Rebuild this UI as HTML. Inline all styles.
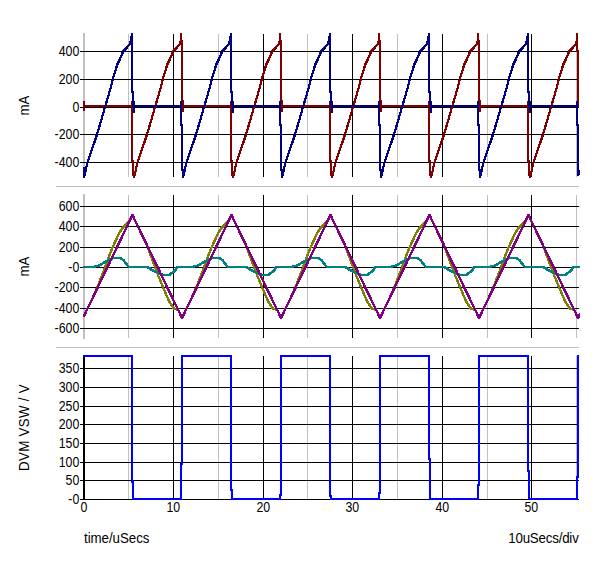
<!DOCTYPE html><html><head><meta charset="utf-8"><title>plot</title><style>
html,body{margin:0;padding:0;background:#fff}body{width:600px;height:563px;overflow:hidden}
svg{display:block;font-family:"Liberation Sans",sans-serif;font-size:13.33px;fill:#000}
.k{fill:#000}.y{fill:#c0c0c0}path,rect{shape-rendering:crispEdges}
</style></head><body>
<svg width="600" height="563" viewBox="0 0 600 563">
<rect width="600" height="563" fill="#fff"/>
<path class="y" d="M56 186h523v1h-523zM56 347h523v1h-523zM128 34h1v143h-1zM218 34h1v143h-1zM307 34h1v143h-1zM397 34h1v143h-1zM487 34h1v143h-1zM576 34h1v143h-1zM83 33h2v145h-2zM128 195h1v143h-1zM218 195h1v143h-1zM307 195h1v143h-1zM397 195h1v143h-1zM487 195h1v143h-1zM576 195h1v143h-1zM83 194h2v145h-2zM128 356h1v143h-1zM218 356h1v143h-1zM307 356h1v143h-1zM397 356h1v143h-1zM487 356h1v143h-1zM576 356h1v143h-1z"/>
<path class="k" d="M173 34h1v143h-1zM263 34h1v143h-1zM352 34h1v143h-1zM442 34h1v143h-1zM531 34h1v143h-1zM80 51h499v1h-499zM80 79h499v1h-499zM80 107h499v1h-499zM80 134h499v1h-499zM80 162h499v1h-499zM173 195h1v143h-1zM263 195h1v143h-1zM352 195h1v143h-1zM442 195h1v143h-1zM531 195h1v143h-1zM80 206h499v1h-499zM80 226h499v1h-499zM80 247h499v1h-499zM80 267h499v1h-499zM80 287h499v1h-499zM80 308h499v1h-499zM80 328h499v1h-499zM173 356h1v143h-1zM263 356h1v143h-1zM352 356h1v143h-1zM442 356h1v143h-1zM531 356h1v143h-1zM83 355h2v145h-2zM80 368h499v1h-499zM80 387h499v1h-499zM80 406h499v1h-499zM80 424h499v1h-499zM80 443h499v1h-499zM80 462h499v1h-499zM80 480h499v1h-499zM80 499h499v1h-499z"/>
<path fill="#800000" d="M477 33h2v7h-2zM180 33h2v7h-2zM279 33h2v7h-2zM378 33h2v7h-2zM576 33h2v8h-2zM180 40h3v1h-3zM477 40h3v1h-3zM279 40h3v1h-3zM378 40h3v1h-3zM377 41h4v3h-4zM179 41h4v3h-4zM575 41h3v3h-3zM278 41h4v3h-4zM476 41h4v3h-4zM574 44h4v1h-4zM178 44h5v1h-5zM376 44h5v1h-5zM277 44h5v1h-5zM475 44h5v1h-5zM474 45h3v1h-3zM177 45h3v1h-3zM276 45h3v1h-3zM573 45h5v1h-5zM375 45h3v1h-3zM374 46h3v1h-3zM473 46h3v1h-3zM572 46h3v1h-3zM176 46h3v1h-3zM275 46h3v1h-3zM274 47h3v1h-3zM571 47h3v1h-3zM472 47h3v1h-3zM373 47h3v1h-3zM175 47h3v1h-3zM174 48h4v1h-4zM372 48h4v1h-4zM273 48h4v1h-4zM471 48h4v1h-4zM570 48h4v1h-4zM576 46h2v4h-2zM470 49h4v1h-4zM272 49h4v1h-4zM569 49h4v1h-4zM173 49h4v1h-4zM371 49h4v1h-4zM370 50h4v1h-4zM568 50h4v1h-4zM469 50h4v1h-4zM172 50h4v1h-4zM271 50h4v1h-4zM576 50h3v2h-3zM172 51h3v1h-3zM271 51h3v1h-3zM370 51h3v1h-3zM568 51h3v1h-3zM469 51h3v1h-3zM567 52h3v2h-3zM171 52h3v2h-3zM270 52h3v2h-3zM468 52h3v2h-3zM369 52h3v2h-3zM171 54h2v1h-2zM567 54h2v1h-2zM270 54h2v1h-2zM468 54h2v1h-2zM369 54h2v1h-2zM467 55h3v1h-3zM566 55h3v1h-3zM170 55h3v1h-3zM269 55h3v1h-3zM368 55h3v1h-3zM269 56h2v1h-2zM368 56h2v1h-2zM467 56h2v1h-2zM566 56h2v1h-2zM170 56h2v1h-2zM169 57h3v1h-3zM367 57h3v1h-3zM268 57h3v1h-3zM466 57h3v1h-3zM565 57h3v1h-3zM169 58h2v1h-2zM367 58h2v1h-2zM268 58h2v1h-2zM466 58h2v1h-2zM565 58h2v1h-2zM465 59h3v2h-3zM267 59h3v2h-3zM168 59h3v2h-3zM366 59h3v2h-3zM564 59h3v2h-3zM464 61h3v2h-3zM167 61h3v2h-3zM266 61h3v2h-3zM365 61h3v2h-3zM563 61h3v2h-3zM265 63h3v2h-3zM364 63h3v2h-3zM463 63h3v2h-3zM562 63h3v2h-3zM166 63h3v2h-3zM562 65h2v1h-2zM166 65h2v1h-2zM265 65h2v1h-2zM364 65h2v1h-2zM463 65h2v1h-2zM165 66h3v2h-3zM363 66h3v2h-3zM264 66h3v2h-3zM462 66h3v2h-3zM561 66h3v2h-3zM264 68h2v2h-2zM462 68h2v2h-2zM561 68h2v2h-2zM165 68h2v2h-2zM363 68h2v2h-2zM461 70h3v1h-3zM560 70h3v1h-3zM263 70h3v1h-3zM164 70h3v1h-3zM362 70h3v1h-3zM461 71h2v2h-2zM560 71h2v2h-2zM263 71h2v2h-2zM164 71h2v2h-2zM362 71h2v2h-2zM460 73h3v1h-3zM361 73h3v1h-3zM559 73h3v1h-3zM163 73h3v1h-3zM262 73h3v1h-3zM262 74h2v2h-2zM361 74h2v2h-2zM460 74h2v2h-2zM559 74h2v2h-2zM163 74h2v2h-2zM162 76h3v1h-3zM261 76h3v1h-3zM360 76h3v1h-3zM459 76h3v1h-3zM558 76h3v1h-3zM459 77h2v3h-2zM162 77h2v3h-2zM261 77h2v3h-2zM360 77h2v3h-2zM558 77h2v3h-2zM458 80h3v1h-3zM161 80h3v1h-3zM557 80h3v1h-3zM359 80h3v1h-3zM260 80h3v1h-3zM260 81h2v3h-2zM458 81h2v3h-2zM557 81h2v3h-2zM161 81h2v3h-2zM359 81h2v3h-2zM556 84h3v1h-3zM457 84h3v1h-3zM160 84h3v1h-3zM259 84h3v1h-3zM358 84h3v1h-3zM259 85h2v3h-2zM358 85h2v3h-2zM556 85h2v3h-2zM457 85h2v3h-2zM160 85h2v3h-2zM258 88h3v1h-3zM456 88h3v1h-3zM357 88h3v1h-3zM159 88h3v1h-3zM555 88h3v1h-3zM555 89h2v2h-2zM159 89h2v2h-2zM258 89h2v2h-2zM456 89h2v2h-2zM357 89h2v2h-2zM158 91h3v1h-3zM455 91h3v1h-3zM257 91h3v1h-3zM356 91h3v1h-3zM554 91h3v1h-3zM257 92h2v3h-2zM455 92h2v3h-2zM554 92h2v3h-2zM356 92h2v3h-2zM158 92h2v3h-2zM256 95h3v1h-3zM454 95h3v1h-3zM553 95h3v1h-3zM157 95h3v1h-3zM355 95h3v1h-3zM553 96h2v2h-2zM355 96h2v2h-2zM256 96h2v2h-2zM454 96h2v2h-2zM157 96h2v2h-2zM354 98h3v1h-3zM453 98h3v1h-3zM255 98h3v1h-3zM156 98h3v1h-3zM552 98h3v1h-3zM478 45h2v55h-2zM379 45h2v55h-2zM280 45h2v55h-2zM181 45h2v55h-2zM255 99h2v2h-2zM552 99h2v2h-2zM156 99h2v2h-2zM354 99h2v2h-2zM453 99h2v2h-2zM280 100h3v2h-3zM181 100h3v2h-3zM379 100h3v2h-3zM478 100h3v2h-3zM155 101h3v2h-3zM254 101h3v2h-3zM551 101h3v2h-3zM353 101h3v2h-3zM452 101h3v2h-3zM131 101h2v4h-2zM527 101h2v4h-2zM329 101h2v4h-2zM428 101h2v4h-2zM83 101h2v4h-2zM230 101h2v4h-2zM182 102h2v3h-2zM281 102h2v3h-2zM380 102h2v3h-2zM479 102h2v3h-2zM551 103h2v2h-2zM353 103h2v2h-2zM452 103h2v2h-2zM155 103h2v2h-2zM254 103h2v2h-2zM451 105h3v1h-3zM154 105h3v1h-3zM550 105h3v1h-3zM253 105h3v1h-3zM352 105h3v1h-3zM577 52h2v55h-2zM83 105h50v2h-50zM182 105h50v2h-50zM281 105h50v2h-50zM380 105h50v2h-50zM479 105h50v2h-50zM253 106h2v2h-2zM352 106h2v2h-2zM451 106h2v2h-2zM550 106h2v2h-2zM154 106h2v2h-2zM351 108h3v1h-3zM252 108h3v1h-3zM450 108h3v1h-3zM549 108h3v1h-3zM153 108h3v1h-3zM83 107h2v4h-2zM182 107h2v5h-2zM281 107h2v5h-2zM380 107h2v5h-2zM479 107h2v5h-2zM351 109h2v3h-2zM252 109h2v3h-2zM450 109h2v3h-2zM549 109h2v3h-2zM153 109h2v3h-2zM251 112h3v1h-3zM548 112h3v1h-3zM152 112h3v1h-3zM350 112h3v1h-3zM449 112h3v1h-3zM152 113h2v2h-2zM251 113h2v2h-2zM350 113h2v2h-2zM548 113h2v2h-2zM449 113h2v2h-2zM547 115h3v1h-3zM448 115h3v1h-3zM151 115h3v1h-3zM250 115h3v1h-3zM349 115h3v1h-3zM349 116h2v3h-2zM448 116h2v3h-2zM547 116h2v3h-2zM250 116h2v3h-2zM151 116h2v3h-2zM249 119h3v1h-3zM447 119h3v1h-3zM348 119h3v1h-3zM546 119h3v1h-3zM150 119h3v1h-3zM150 120h2v2h-2zM546 120h2v2h-2zM249 120h2v2h-2zM447 120h2v2h-2zM348 120h2v2h-2zM248 122h3v1h-3zM545 122h3v1h-3zM347 122h3v1h-3zM446 122h3v1h-3zM149 122h3v1h-3zM545 123h2v2h-2zM149 123h2v2h-2zM248 123h2v2h-2zM347 123h2v2h-2zM446 123h2v2h-2zM544 125h3v2h-3zM247 125h3v2h-3zM148 125h3v2h-3zM346 125h3v2h-3zM445 125h3v2h-3zM346 127h2v2h-2zM445 127h2v2h-2zM544 127h2v2h-2zM247 127h2v2h-2zM148 127h2v2h-2zM543 129h3v1h-3zM444 129h3v1h-3zM246 129h3v1h-3zM147 129h3v1h-3zM345 129h3v1h-3zM246 130h2v2h-2zM345 130h2v2h-2zM147 130h2v2h-2zM543 130h2v2h-2zM444 130h2v2h-2zM245 132h3v1h-3zM443 132h3v1h-3zM344 132h3v1h-3zM542 132h3v1h-3zM146 132h3v1h-3zM146 133h2v2h-2zM542 133h2v2h-2zM344 133h2v2h-2zM245 133h2v2h-2zM443 133h2v2h-2zM541 135h3v2h-3zM145 135h3v2h-3zM343 135h3v2h-3zM244 135h3v2h-3zM442 135h3v2h-3zM541 137h2v1h-2zM343 137h2v1h-2zM145 137h2v1h-2zM244 137h2v1h-2zM442 137h2v1h-2zM342 138h3v2h-3zM441 138h3v2h-3zM540 138h3v2h-3zM144 138h3v2h-3zM243 138h3v2h-3zM243 140h2v1h-2zM342 140h2v1h-2zM441 140h2v1h-2zM540 140h2v1h-2zM144 140h2v1h-2zM242 141h3v2h-3zM143 141h3v2h-3zM341 141h3v2h-3zM539 141h3v2h-3zM440 141h3v2h-3zM242 143h2v1h-2zM143 143h2v1h-2zM341 143h2v1h-2zM539 143h2v1h-2zM440 143h2v1h-2zM142 144h3v1h-3zM538 144h3v1h-3zM241 144h3v1h-3zM340 144h3v1h-3zM439 144h3v1h-3zM439 145h2v2h-2zM538 145h2v2h-2zM142 145h2v2h-2zM241 145h2v2h-2zM340 145h2v2h-2zM240 147h3v1h-3zM339 147h3v1h-3zM537 147h3v1h-3zM141 147h3v1h-3zM438 147h3v1h-3zM141 148h2v2h-2zM240 148h2v2h-2zM438 148h2v2h-2zM339 148h2v2h-2zM537 148h2v2h-2zM338 150h3v1h-3zM239 150h3v1h-3zM536 150h3v1h-3zM437 150h3v1h-3zM140 150h3v1h-3zM536 151h2v2h-2zM140 151h2v2h-2zM239 151h2v2h-2zM338 151h2v2h-2zM437 151h2v2h-2zM139 153h3v1h-3zM238 153h3v1h-3zM337 153h3v1h-3zM535 153h3v1h-3zM436 153h3v1h-3zM337 154h2v2h-2zM535 154h2v2h-2zM436 154h2v2h-2zM139 154h2v2h-2zM238 154h2v2h-2zM435 156h3v1h-3zM534 156h3v1h-3zM138 156h3v1h-3zM237 156h3v1h-3zM336 156h3v1h-3zM336 157h2v2h-2zM435 157h2v2h-2zM534 157h2v2h-2zM138 157h2v2h-2zM237 157h2v2h-2zM131 107h2v53h-2zM527 107h2v53h-2zM329 107h2v53h-2zM428 107h2v53h-2zM230 107h2v53h-2zM434 159h3v1h-3zM335 159h3v1h-3zM533 159h3v1h-3zM137 159h3v1h-3zM236 159h3v1h-3zM137 160h2v2h-2zM329 160h3v2h-3zM527 160h3v2h-3zM236 160h2v2h-2zM335 160h2v2h-2zM428 160h3v2h-3zM230 160h3v2h-3zM434 160h2v2h-2zM533 160h2v2h-2zM131 160h3v2h-3zM136 162h3v1h-3zM334 162h3v1h-3zM235 162h3v1h-3zM433 162h3v1h-3zM532 162h3v1h-3zM532 163h2v3h-2zM136 163h2v3h-2zM334 163h2v3h-2zM235 163h2v3h-2zM433 163h2v3h-2zM531 166h3v1h-3zM234 166h3v1h-3zM432 166h3v1h-3zM135 166h3v1h-3zM333 166h3v1h-3zM330 162h2v9h-2zM231 162h2v9h-2zM429 162h2v9h-2zM528 162h2v9h-2zM132 162h2v9h-2zM333 167h2v4h-2zM531 167h2v4h-2zM432 167h2v4h-2zM234 167h2v4h-2zM135 167h2v4h-2zM231 171h5v1h-5zM330 171h5v1h-5zM429 171h5v1h-5zM528 171h5v1h-5zM132 171h5v1h-5zM330 172h4v4h-4zM231 172h4v4h-4zM429 172h4v4h-4zM132 172h4v4h-4zM528 172h4v4h-4zM529 176h2v2h-2zM133 176h2v2h-2zM232 176h2v2h-2zM430 176h2v2h-2zM331 176h2v2h-2z"/>
<path fill="#000080" d="M131 33h2v3h-2zM527 33h2v3h-2zM329 33h2v3h-2zM428 33h2v3h-2zM230 33h2v3h-2zM229 36h3v5h-3zM328 36h3v5h-3zM526 36h3v5h-3zM427 36h3v5h-3zM130 36h3v5h-3zM129 41h4v3h-4zM228 41h4v3h-4zM426 41h4v3h-4zM327 41h4v3h-4zM525 41h4v3h-4zM128 44h5v1h-5zM227 44h5v1h-5zM425 44h5v1h-5zM524 44h5v1h-5zM326 44h5v1h-5zM226 45h3v1h-3zM325 45h3v1h-3zM424 45h3v1h-3zM523 45h3v1h-3zM127 45h3v1h-3zM522 46h3v1h-3zM225 46h3v1h-3zM126 46h3v1h-3zM324 46h3v1h-3zM423 46h3v1h-3zM323 47h3v1h-3zM521 47h3v1h-3zM125 47h3v1h-3zM224 47h3v1h-3zM422 47h3v1h-3zM520 48h4v1h-4zM322 48h4v1h-4zM124 48h4v1h-4zM223 48h4v1h-4zM421 48h4v1h-4zM222 49h4v1h-4zM321 49h4v1h-4zM420 49h4v1h-4zM519 49h4v1h-4zM123 49h4v1h-4zM221 50h4v1h-4zM122 50h4v1h-4zM320 50h4v1h-4zM518 50h4v1h-4zM419 50h4v1h-4zM320 51h3v1h-3zM419 51h3v1h-3zM221 51h3v1h-3zM518 51h3v1h-3zM122 51h3v1h-3zM319 52h3v2h-3zM418 52h3v2h-3zM121 52h3v2h-3zM517 52h3v2h-3zM220 52h3v2h-3zM121 54h2v1h-2zM220 54h2v1h-2zM319 54h2v1h-2zM418 54h2v1h-2zM517 54h2v1h-2zM120 55h3v1h-3zM219 55h3v1h-3zM318 55h3v1h-3zM417 55h3v1h-3zM516 55h3v1h-3zM120 56h2v1h-2zM516 56h2v1h-2zM318 56h2v1h-2zM417 56h2v1h-2zM219 56h2v1h-2zM515 57h3v1h-3zM119 57h3v1h-3zM317 57h3v1h-3zM218 57h3v1h-3zM416 57h3v1h-3zM119 58h2v1h-2zM218 58h2v1h-2zM416 58h2v1h-2zM515 58h2v1h-2zM317 58h2v1h-2zM316 59h3v2h-3zM514 59h3v2h-3zM415 59h3v2h-3zM217 59h3v2h-3zM118 59h3v2h-3zM117 61h3v2h-3zM216 61h3v2h-3zM414 61h3v2h-3zM315 61h3v2h-3zM513 61h3v2h-3zM413 63h3v2h-3zM512 63h3v2h-3zM116 63h3v2h-3zM215 63h3v2h-3zM314 63h3v2h-3zM314 65h2v1h-2zM413 65h2v1h-2zM512 65h2v1h-2zM116 65h2v1h-2zM215 65h2v1h-2zM313 66h3v2h-3zM412 66h3v2h-3zM214 66h3v2h-3zM511 66h3v2h-3zM115 66h3v2h-3zM313 68h2v2h-2zM214 68h2v2h-2zM412 68h2v2h-2zM115 68h2v2h-2zM511 68h2v2h-2zM114 70h3v1h-3zM312 70h3v1h-3zM510 70h3v1h-3zM411 70h3v1h-3zM213 70h3v1h-3zM411 71h2v2h-2zM213 71h2v2h-2zM114 71h2v2h-2zM312 71h2v2h-2zM510 71h2v2h-2zM113 73h3v1h-3zM410 73h3v1h-3zM212 73h3v1h-3zM311 73h3v1h-3zM509 73h3v1h-3zM311 74h2v2h-2zM113 74h2v2h-2zM509 74h2v2h-2zM410 74h2v2h-2zM212 74h2v2h-2zM310 76h3v1h-3zM508 76h3v1h-3zM112 76h3v1h-3zM211 76h3v1h-3zM409 76h3v1h-3zM112 77h2v3h-2zM211 77h2v3h-2zM409 77h2v3h-2zM310 77h2v3h-2zM508 77h2v3h-2zM210 80h3v1h-3zM309 80h3v1h-3zM408 80h3v1h-3zM111 80h3v1h-3zM507 80h3v1h-3zM507 81h2v3h-2zM111 81h2v3h-2zM408 81h2v3h-2zM210 81h2v3h-2zM309 81h2v3h-2zM209 84h3v1h-3zM110 84h3v1h-3zM308 84h3v1h-3zM407 84h3v1h-3zM506 84h3v1h-3zM407 85h2v3h-2zM506 85h2v3h-2zM209 85h2v3h-2zM110 85h2v3h-2zM308 85h2v3h-2zM505 88h3v1h-3zM109 88h3v1h-3zM208 88h3v1h-3zM406 88h3v1h-3zM307 88h3v1h-3zM131 45h2v46h-2zM329 45h2v46h-2zM527 45h2v46h-2zM428 45h2v46h-2zM230 45h2v46h-2zM307 89h2v2h-2zM505 89h2v2h-2zM109 89h2v2h-2zM406 89h2v2h-2zM208 89h2v2h-2zM207 91h3v1h-3zM306 91h3v1h-3zM405 91h3v1h-3zM504 91h3v1h-3zM108 91h3v1h-3zM329 91h3v2h-3zM527 91h3v2h-3zM428 91h3v2h-3zM230 91h3v2h-3zM131 91h3v2h-3zM207 92h2v3h-2zM405 92h2v3h-2zM306 92h2v3h-2zM108 92h2v3h-2zM504 92h2v3h-2zM107 95h3v1h-3zM503 95h3v1h-3zM305 95h3v1h-3zM206 95h3v1h-3zM404 95h3v1h-3zM503 96h2v2h-2zM107 96h2v2h-2zM206 96h2v2h-2zM305 96h2v2h-2zM404 96h2v2h-2zM403 98h3v1h-3zM205 98h3v1h-3zM502 98h3v1h-3zM106 98h3v1h-3zM304 98h3v1h-3zM330 93h2v8h-2zM231 93h2v8h-2zM429 93h2v8h-2zM528 93h2v8h-2zM132 93h2v8h-2zM304 99h2v2h-2zM403 99h2v2h-2zM205 99h2v2h-2zM502 99h2v2h-2zM106 99h2v2h-2zM303 101h3v2h-3zM501 101h3v2h-3zM402 101h3v2h-3zM105 101h3v2h-3zM204 101h3v2h-3zM528 101h3v4h-3zM132 101h3v4h-3zM429 101h3v4h-3zM576 101h2v4h-2zM180 101h2v4h-2zM330 101h3v4h-3zM477 101h2v4h-2zM231 101h3v4h-3zM279 101h2v4h-2zM378 101h2v4h-2zM105 103h2v2h-2zM204 103h2v2h-2zM303 103h2v2h-2zM402 103h2v2h-2zM501 103h2v2h-2zM104 105h3v1h-3zM203 105h3v1h-3zM401 105h3v1h-3zM302 105h3v1h-3zM500 105h3v1h-3zM231 105h50v2h-50zM330 105h50v2h-50zM429 105h50v2h-50zM528 105h50v2h-50zM132 105h50v2h-50zM302 106h2v2h-2zM401 106h2v2h-2zM500 106h2v2h-2zM104 106h2v2h-2zM203 106h2v2h-2zM103 108h3v1h-3zM301 108h3v1h-3zM202 108h3v1h-3zM400 108h3v1h-3zM499 108h3v1h-3zM202 109h2v3h-2zM400 109h2v3h-2zM499 109h2v3h-2zM103 109h2v3h-2zM301 109h2v3h-2zM529 107h2v6h-2zM133 107h2v6h-2zM232 107h2v6h-2zM430 107h2v6h-2zM331 107h2v6h-2zM399 112h3v1h-3zM201 112h3v1h-3zM102 112h3v1h-3zM498 112h3v1h-3zM300 112h3v1h-3zM201 113h2v2h-2zM498 113h2v2h-2zM102 113h2v2h-2zM300 113h2v2h-2zM399 113h2v2h-2zM101 115h3v1h-3zM200 115h3v1h-3zM299 115h3v1h-3zM497 115h3v1h-3zM398 115h3v1h-3zM398 116h2v3h-2zM101 116h2v3h-2zM497 116h2v3h-2zM200 116h2v3h-2zM299 116h2v3h-2zM100 119h3v1h-3zM496 119h3v1h-3zM199 119h3v1h-3zM397 119h3v1h-3zM298 119h3v1h-3zM496 120h2v2h-2zM100 120h2v2h-2zM397 120h2v2h-2zM199 120h2v2h-2zM298 120h2v2h-2zM396 122h3v1h-3zM495 122h3v1h-3zM99 122h3v1h-3zM198 122h3v1h-3zM297 122h3v1h-3zM576 107h2v17h-2zM180 107h2v17h-2zM477 107h2v17h-2zM279 107h2v17h-2zM378 107h2v17h-2zM198 123h2v2h-2zM297 123h2v2h-2zM396 123h2v2h-2zM99 123h2v2h-2zM495 123h2v2h-2zM180 124h3v2h-3zM576 124h3v2h-3zM477 124h3v2h-3zM279 124h3v2h-3zM378 124h3v2h-3zM98 125h3v2h-3zM296 125h3v2h-3zM197 125h3v2h-3zM395 125h3v2h-3zM494 125h3v2h-3zM98 127h2v2h-2zM296 127h2v2h-2zM395 127h2v2h-2zM197 127h2v2h-2zM494 127h2v2h-2zM394 129h3v1h-3zM97 129h3v1h-3zM196 129h3v1h-3zM295 129h3v1h-3zM493 129h3v1h-3zM493 130h2v2h-2zM394 130h2v2h-2zM196 130h2v2h-2zM97 130h2v2h-2zM295 130h2v2h-2zM393 132h3v1h-3zM294 132h3v1h-3zM492 132h3v1h-3zM96 132h3v1h-3zM195 132h3v1h-3zM195 133h2v2h-2zM393 133h2v2h-2zM294 133h2v2h-2zM492 133h2v2h-2zM96 133h2v2h-2zM194 135h3v2h-3zM293 135h3v2h-3zM392 135h3v2h-3zM95 135h3v2h-3zM491 135h3v2h-3zM491 137h2v1h-2zM95 137h2v1h-2zM194 137h2v1h-2zM293 137h2v1h-2zM392 137h2v1h-2zM94 138h3v2h-3zM193 138h3v2h-3zM292 138h3v2h-3zM391 138h3v2h-3zM490 138h3v2h-3zM193 140h2v1h-2zM391 140h2v1h-2zM94 140h2v1h-2zM490 140h2v1h-2zM292 140h2v1h-2zM390 141h3v2h-3zM489 141h3v2h-3zM192 141h3v2h-3zM93 141h3v2h-3zM291 141h3v2h-3zM192 143h2v1h-2zM291 143h2v1h-2zM93 143h2v1h-2zM390 143h2v1h-2zM489 143h2v1h-2zM389 144h3v1h-3zM290 144h3v1h-3zM488 144h3v1h-3zM92 144h3v1h-3zM191 144h3v1h-3zM191 145h2v2h-2zM389 145h2v2h-2zM290 145h2v2h-2zM92 145h2v2h-2zM488 145h2v2h-2zM91 147h3v1h-3zM190 147h3v1h-3zM388 147h3v1h-3zM289 147h3v1h-3zM487 147h3v1h-3zM487 148h2v2h-2zM91 148h2v2h-2zM190 148h2v2h-2zM388 148h2v2h-2zM289 148h2v2h-2zM387 150h3v1h-3zM486 150h3v1h-3zM288 150h3v1h-3zM90 150h3v1h-3zM189 150h3v1h-3zM189 151h2v2h-2zM387 151h2v2h-2zM486 151h2v2h-2zM90 151h2v2h-2zM288 151h2v2h-2zM188 153h3v1h-3zM287 153h3v1h-3zM386 153h3v1h-3zM485 153h3v1h-3zM89 153h3v1h-3zM386 154h2v2h-2zM188 154h2v2h-2zM287 154h2v2h-2zM485 154h2v2h-2zM89 154h2v2h-2zM187 156h3v1h-3zM286 156h3v1h-3zM385 156h3v1h-3zM88 156h3v1h-3zM484 156h3v1h-3zM484 157h2v2h-2zM88 157h2v2h-2zM187 157h2v2h-2zM286 157h2v2h-2zM385 157h2v2h-2zM483 159h3v1h-3zM384 159h3v1h-3zM87 159h3v1h-3zM186 159h3v1h-3zM285 159h3v1h-3zM186 160h2v2h-2zM384 160h2v2h-2zM285 160h2v2h-2zM87 160h2v2h-2zM483 160h2v2h-2zM185 162h3v1h-3zM383 162h3v1h-3zM482 162h3v1h-3zM86 162h3v1h-3zM284 162h3v1h-3zM482 163h2v3h-2zM284 163h2v3h-2zM86 163h2v3h-2zM185 163h2v3h-2zM383 163h2v3h-2zM85 166h3v1h-3zM382 166h3v1h-3zM283 166h3v1h-3zM481 166h3v1h-3zM184 166h3v1h-3zM478 126h2v43h-2zM280 126h2v43h-2zM181 126h2v43h-2zM379 126h2v43h-2zM382 167h2v2h-2zM184 167h2v2h-2zM481 167h2v2h-2zM283 167h2v2h-2zM577 126h2v44h-2zM478 169h5v2h-5zM280 169h5v2h-5zM181 169h5v2h-5zM379 169h5v2h-5zM83 167h4v5h-4zM380 171h4v1h-4zM479 171h4v1h-4zM182 171h4v1h-4zM281 171h4v1h-4zM577 170h3v5h-3zM380 172h3v4h-3zM479 172h3v4h-3zM83 172h3v4h-3zM182 172h3v4h-3zM281 172h3v4h-3zM577 175h2v1h-2zM182 176h2v2h-2zM281 176h2v2h-2zM380 176h2v2h-2zM479 176h2v2h-2zM83 176h2v2h-2z"/>
<path fill="#808000" d="M329 214h3v2h-3zM527 214h3v2h-3zM428 214h3v2h-3zM230 214h3v2h-3zM131 214h3v2h-3zM526 216h5v2h-5zM427 216h5v2h-5zM130 216h5v2h-5zM229 216h5v2h-5zM328 216h5v2h-5zM529 218h2v1h-2zM133 218h2v1h-2zM232 218h2v1h-2zM430 218h2v1h-2zM331 218h2v1h-2zM129 218h3v2h-3zM228 218h3v2h-3zM426 218h3v2h-3zM525 218h3v2h-3zM327 218h3v2h-3zM133 219h3v1h-3zM529 219h3v1h-3zM232 219h3v1h-3zM430 219h3v1h-3zM331 219h3v1h-3zM233 220h2v1h-2zM425 220h3v1h-3zM128 220h3v1h-3zM332 220h2v1h-2zM326 220h3v1h-3zM134 220h2v1h-2zM524 220h3v1h-3zM530 220h2v1h-2zM227 220h3v1h-3zM431 220h2v1h-2zM233 221h3v1h-3zM332 221h3v1h-3zM226 221h3v1h-3zM325 221h3v1h-3zM530 221h3v1h-3zM134 221h3v1h-3zM431 221h3v1h-3zM424 221h3v1h-3zM523 221h3v1h-3zM127 221h3v1h-3zM333 222h2v1h-2zM225 222h4v1h-4zM126 222h4v1h-4zM531 222h2v1h-2zM324 222h4v1h-4zM423 222h4v1h-4zM432 222h2v1h-2zM522 222h4v1h-4zM234 222h2v1h-2zM135 222h2v1h-2zM521 223h4v1h-4zM531 223h3v1h-3zM224 223h4v1h-4zM432 223h3v1h-3zM234 223h3v1h-3zM135 223h3v1h-3zM333 223h3v1h-3zM422 223h4v1h-4zM323 223h4v1h-4zM125 223h4v1h-4zM520 224h4v1h-4zM532 224h2v1h-2zM136 224h2v1h-2zM322 224h4v1h-4zM334 224h2v1h-2zM124 224h4v1h-4zM223 224h4v1h-4zM235 224h2v1h-2zM421 224h4v1h-4zM433 224h2v1h-2zM222 225h4v1h-4zM519 225h4v1h-4zM136 225h3v1h-3zM321 225h4v1h-4zM334 225h3v1h-3zM532 225h3v1h-3zM235 225h3v1h-3zM420 225h4v1h-4zM433 225h3v1h-3zM123 225h4v1h-4zM137 226h2v1h-2zM236 226h2v1h-2zM221 226h4v1h-4zM122 226h4v1h-4zM320 226h4v1h-4zM518 226h4v1h-4zM335 226h2v1h-2zM434 226h2v1h-2zM419 226h4v1h-4zM533 226h2v1h-2zM517 227h4v1h-4zM434 227h3v1h-3zM121 227h4v1h-4zM335 227h3v1h-3zM533 227h3v1h-3zM220 227h4v1h-4zM137 227h3v1h-3zM236 227h3v1h-3zM319 227h4v1h-4zM418 227h4v1h-4zM319 228h3v1h-3zM336 228h2v1h-2zM418 228h3v1h-3zM435 228h2v1h-2zM138 228h2v1h-2zM121 228h3v1h-3zM517 228h3v1h-3zM534 228h2v1h-2zM220 228h3v1h-3zM237 228h2v1h-2zM435 229h3v1h-3zM534 229h3v1h-3zM138 229h3v1h-3zM219 229h3v1h-3zM318 229h3v1h-3zM417 229h3v1h-3zM237 229h3v1h-3zM516 229h3v1h-3zM336 229h3v1h-3zM120 229h3v1h-3zM337 230h2v1h-2zM535 230h2v1h-2zM436 230h2v1h-2zM139 230h2v1h-2zM238 230h2v1h-2zM515 230h3v2h-3zM119 230h3v2h-3zM317 230h3v2h-3zM218 230h3v2h-3zM416 230h3v2h-3zM139 231h3v2h-3zM238 231h3v2h-3zM337 231h3v2h-3zM535 231h3v2h-3zM436 231h3v2h-3zM316 232h3v1h-3zM514 232h3v1h-3zM415 232h3v1h-3zM217 232h3v1h-3zM118 232h3v1h-3zM118 233h2v1h-2zM514 233h2v1h-2zM316 233h2v1h-2zM415 233h2v1h-2zM217 233h2v1h-2zM338 233h3v2h-3zM239 233h3v2h-3zM437 233h3v2h-3zM140 233h3v2h-3zM536 233h3v2h-3zM117 234h3v1h-3zM216 234h3v1h-3zM414 234h3v1h-3zM315 234h3v1h-3zM513 234h3v1h-3zM117 235h2v1h-2zM216 235h2v1h-2zM414 235h2v1h-2zM315 235h2v1h-2zM513 235h2v1h-2zM240 235h3v2h-3zM339 235h3v2h-3zM537 235h3v2h-3zM141 235h3v2h-3zM438 235h3v2h-3zM512 236h3v1h-3zM116 236h3v1h-3zM215 236h3v1h-3zM314 236h3v1h-3zM413 236h3v1h-3zM314 237h2v1h-2zM413 237h2v1h-2zM512 237h2v1h-2zM116 237h2v1h-2zM215 237h2v1h-2zM142 237h3v2h-3zM538 237h3v2h-3zM241 237h3v2h-3zM340 237h3v2h-3zM439 237h3v2h-3zM313 238h3v2h-3zM412 238h3v2h-3zM214 238h3v2h-3zM511 238h3v2h-3zM115 238h3v2h-3zM242 239h3v2h-3zM143 239h3v2h-3zM341 239h3v2h-3zM539 239h3v2h-3zM440 239h3v2h-3zM114 240h3v2h-3zM312 240h3v2h-3zM510 240h3v2h-3zM411 240h3v2h-3zM213 240h3v2h-3zM342 241h3v2h-3zM441 241h3v2h-3zM540 241h3v2h-3zM144 241h3v2h-3zM243 241h3v2h-3zM113 242h3v2h-3zM410 242h3v2h-3zM212 242h3v2h-3zM311 242h3v2h-3zM509 242h3v2h-3zM541 243h3v2h-3zM145 243h3v2h-3zM343 243h3v2h-3zM244 243h3v2h-3zM442 243h3v2h-3zM311 244h2v1h-2zM113 244h2v1h-2zM509 244h2v1h-2zM410 244h2v1h-2zM212 244h2v1h-2zM146 245h2v1h-2zM542 245h2v1h-2zM310 245h3v1h-3zM508 245h3v1h-3zM112 245h3v1h-3zM245 245h2v1h-2zM443 245h2v1h-2zM211 245h3v1h-3zM409 245h3v1h-3zM344 245h2v1h-2zM112 246h2v1h-2zM211 246h2v1h-2zM409 246h2v1h-2zM245 246h3v1h-3zM310 246h2v1h-2zM443 246h3v1h-3zM344 246h3v1h-3zM542 246h3v1h-3zM146 246h3v1h-3zM508 246h2v1h-2zM210 247h3v1h-3zM246 247h2v1h-2zM345 247h2v1h-2zM309 247h3v1h-3zM147 247h2v1h-2zM408 247h3v1h-3zM543 247h2v1h-2zM507 247h3v1h-3zM444 247h2v1h-2zM111 247h3v1h-3zM507 248h2v1h-2zM111 248h2v1h-2zM210 248h2v1h-2zM309 248h2v1h-2zM408 248h2v1h-2zM543 248h3v2h-3zM444 248h3v2h-3zM246 248h3v2h-3zM147 248h3v2h-3zM345 248h3v2h-3zM209 249h3v2h-3zM407 249h3v2h-3zM110 249h3v2h-3zM308 249h3v2h-3zM506 249h3v2h-3zM346 250h2v1h-2zM445 250h2v1h-2zM544 250h2v1h-2zM247 250h2v1h-2zM148 250h2v1h-2zM407 251h2v1h-2zM506 251h2v1h-2zM209 251h2v1h-2zM110 251h2v1h-2zM308 251h2v1h-2zM445 251h3v2h-3zM544 251h3v2h-3zM247 251h3v2h-3zM148 251h3v2h-3zM346 251h3v2h-3zM505 252h3v1h-3zM109 252h3v1h-3zM208 252h3v1h-3zM406 252h3v1h-3zM307 252h3v1h-3zM446 253h2v1h-2zM307 253h2v1h-2zM545 253h2v1h-2zM149 253h2v1h-2zM505 253h2v1h-2zM248 253h2v1h-2zM109 253h2v1h-2zM406 253h2v1h-2zM347 253h2v1h-2zM208 253h2v1h-2zM248 254h3v2h-3zM207 254h3v2h-3zM306 254h3v2h-3zM405 254h3v2h-3zM504 254h3v2h-3zM347 254h3v2h-3zM108 254h3v2h-3zM446 254h3v2h-3zM149 254h3v2h-3zM545 254h3v2h-3zM150 256h2v1h-2zM546 256h2v1h-2zM249 256h2v1h-2zM447 256h2v1h-2zM207 256h2v1h-2zM348 256h2v1h-2zM405 256h2v1h-2zM306 256h2v1h-2zM108 256h2v1h-2zM504 256h2v1h-2zM249 257h3v1h-3zM447 257h3v1h-3zM107 257h3v1h-3zM503 257h3v1h-3zM305 257h3v1h-3zM348 257h3v1h-3zM206 257h3v1h-3zM404 257h3v1h-3zM546 257h3v1h-3zM150 257h3v1h-3zM404 258h2v2h-2zM349 258h2v2h-2zM448 258h2v2h-2zM503 258h2v2h-2zM547 258h2v2h-2zM107 258h2v2h-2zM206 258h2v2h-2zM305 258h2v2h-2zM250 258h2v2h-2zM151 258h2v2h-2zM547 260h3v1h-3zM403 260h3v1h-3zM448 260h3v1h-3zM205 260h3v1h-3zM502 260h3v1h-3zM151 260h3v1h-3zM250 260h3v1h-3zM106 260h3v1h-3zM304 260h3v1h-3zM349 260h3v1h-3zM152 261h2v1h-2zM251 261h2v1h-2zM350 261h2v1h-2zM548 261h2v1h-2zM449 261h2v1h-2zM304 261h2v2h-2zM205 261h2v2h-2zM403 261h2v2h-2zM502 261h2v2h-2zM106 261h2v2h-2zM251 262h3v2h-3zM548 262h3v2h-3zM152 262h3v2h-3zM350 262h3v2h-3zM449 262h3v2h-3zM303 263h3v1h-3zM402 263h3v1h-3zM105 263h3v1h-3zM501 263h3v1h-3zM204 263h3v1h-3zM501 264h2v1h-2zM105 264h2v1h-2zM204 264h2v1h-2zM303 264h2v1h-2zM351 264h2v1h-2zM252 264h2v1h-2zM402 264h2v1h-2zM450 264h2v1h-2zM153 264h2v1h-2zM549 264h2v1h-2zM351 265h3v1h-3zM252 265h3v1h-3zM450 265h3v1h-3zM549 265h3v1h-3zM153 265h3v1h-3zM104 265h3v2h-3zM203 265h3v2h-3zM401 265h3v2h-3zM302 265h3v2h-3zM500 265h3v2h-3zM253 266h2v2h-2zM352 266h2v2h-2zM451 266h2v2h-2zM550 266h2v2h-2zM154 266h2v2h-2zM302 267h2v1h-2zM401 267h2v1h-2zM500 267h2v1h-2zM104 267h2v1h-2zM203 267h2v1h-2zM451 268h3v1h-3zM400 268h3v1h-3zM154 268h3v1h-3zM550 268h3v1h-3zM253 268h3v1h-3zM103 268h3v1h-3zM301 268h3v1h-3zM202 268h3v1h-3zM352 268h3v1h-3zM499 268h3v1h-3zM551 269h2v1h-2zM452 269h2v1h-2zM155 269h2v1h-2zM254 269h2v1h-2zM353 269h2v1h-2zM202 269h2v2h-2zM400 269h2v2h-2zM499 269h2v2h-2zM103 269h2v2h-2zM301 269h2v2h-2zM155 270h3v2h-3zM254 270h3v2h-3zM551 270h3v2h-3zM353 270h3v2h-3zM452 270h3v2h-3zM399 271h3v1h-3zM201 271h3v1h-3zM102 271h3v1h-3zM300 271h3v1h-3zM498 271h3v1h-3zM201 272h2v1h-2zM498 272h2v1h-2zM255 272h2v1h-2zM552 272h2v1h-2zM102 272h2v1h-2zM300 272h2v1h-2zM156 272h2v1h-2zM354 272h2v1h-2zM399 272h2v1h-2zM453 272h2v1h-2zM354 273h3v1h-3zM255 273h3v1h-3zM453 273h3v1h-3zM156 273h3v1h-3zM552 273h3v1h-3zM101 273h3v2h-3zM200 273h3v2h-3zM299 273h3v2h-3zM497 273h3v2h-3zM398 273h3v2h-3zM553 274h2v2h-2zM355 274h2v2h-2zM256 274h2v2h-2zM454 274h2v2h-2zM157 274h2v2h-2zM398 275h2v1h-2zM101 275h2v1h-2zM200 275h2v1h-2zM299 275h2v1h-2zM497 275h2v1h-2zM256 276h3v1h-3zM454 276h3v1h-3zM100 276h3v1h-3zM157 276h3v1h-3zM496 276h3v1h-3zM199 276h3v1h-3zM397 276h3v1h-3zM553 276h3v1h-3zM298 276h3v1h-3zM355 276h3v1h-3zM257 277h2v1h-2zM455 277h2v1h-2zM554 277h2v1h-2zM356 277h2v1h-2zM158 277h2v1h-2zM496 277h2v1h-2zM100 277h2v1h-2zM397 277h2v1h-2zM199 277h2v1h-2zM298 277h2v1h-2zM158 278h3v1h-3zM356 278h3v1h-3zM257 278h3v1h-3zM455 278h3v1h-3zM554 278h3v1h-3zM396 278h3v2h-3zM495 278h3v2h-3zM99 278h3v2h-3zM198 278h3v2h-3zM297 278h3v2h-3zM555 279h2v1h-2zM159 279h2v1h-2zM258 279h2v1h-2zM456 279h2v1h-2zM357 279h2v1h-2zM198 280h2v1h-2zM297 280h2v1h-2zM396 280h2v1h-2zM99 280h2v1h-2zM495 280h2v1h-2zM258 280h3v2h-3zM159 280h3v2h-3zM555 280h3v2h-3zM456 280h3v2h-3zM357 280h3v2h-3zM98 281h3v1h-3zM296 281h3v1h-3zM197 281h3v1h-3zM395 281h3v1h-3zM494 281h3v1h-3zM259 282h2v1h-2zM358 282h2v1h-2zM556 282h2v1h-2zM457 282h2v1h-2zM160 282h2v1h-2zM98 282h2v2h-2zM296 282h2v2h-2zM197 282h2v2h-2zM395 282h2v2h-2zM494 282h2v2h-2zM556 283h3v1h-3zM457 283h3v1h-3zM160 283h3v1h-3zM259 283h3v1h-3zM358 283h3v1h-3zM260 284h2v1h-2zM394 284h3v1h-3zM97 284h3v1h-3zM196 284h3v1h-3zM295 284h3v1h-3zM458 284h2v1h-2zM557 284h2v1h-2zM161 284h2v1h-2zM359 284h2v1h-2zM493 284h3v1h-3zM493 285h2v1h-2zM394 285h2v1h-2zM196 285h2v1h-2zM97 285h2v1h-2zM295 285h2v1h-2zM458 285h3v2h-3zM161 285h3v2h-3zM359 285h3v2h-3zM557 285h3v2h-3zM260 285h3v2h-3zM393 286h3v1h-3zM294 286h3v1h-3zM492 286h3v1h-3zM96 286h3v1h-3zM195 286h3v1h-3zM195 287h2v1h-2zM393 287h2v1h-2zM162 287h2v1h-2zM294 287h2v1h-2zM492 287h2v1h-2zM558 287h2v1h-2zM261 287h2v1h-2zM459 287h2v1h-2zM96 287h2v1h-2zM360 287h2v1h-2zM162 288h3v1h-3zM261 288h3v1h-3zM360 288h3v1h-3zM459 288h3v1h-3zM558 288h3v1h-3zM194 288h3v2h-3zM293 288h3v2h-3zM392 288h3v2h-3zM95 288h3v2h-3zM491 288h3v2h-3zM262 289h2v1h-2zM361 289h2v1h-2zM460 289h2v1h-2zM559 289h2v1h-2zM163 289h2v1h-2zM491 290h2v1h-2zM460 290h3v1h-3zM95 290h2v1h-2zM361 290h3v1h-3zM559 290h3v1h-3zM194 290h2v1h-2zM293 290h2v1h-2zM163 290h3v1h-3zM262 290h3v1h-3zM392 290h2v1h-2zM94 291h3v1h-3zM490 291h3v1h-3zM461 291h2v1h-2zM560 291h2v1h-2zM193 291h3v1h-3zM292 291h3v1h-3zM263 291h2v1h-2zM391 291h3v1h-3zM164 291h2v1h-2zM362 291h2v1h-2zM193 292h2v1h-2zM391 292h2v1h-2zM94 292h2v1h-2zM490 292h2v1h-2zM292 292h2v1h-2zM461 292h3v2h-3zM560 292h3v2h-3zM263 292h3v2h-3zM164 292h3v2h-3zM362 292h3v2h-3zM390 293h3v2h-3zM489 293h3v2h-3zM192 293h3v2h-3zM93 293h3v2h-3zM291 293h3v2h-3zM264 294h2v1h-2zM462 294h2v1h-2zM561 294h2v1h-2zM165 294h2v1h-2zM363 294h2v1h-2zM165 295h3v1h-3zM363 295h3v1h-3zM561 295h3v1h-3zM264 295h3v1h-3zM462 295h3v1h-3zM389 295h3v2h-3zM290 295h3v2h-3zM488 295h3v2h-3zM92 295h3v2h-3zM191 295h3v2h-3zM562 296h2v1h-2zM166 296h2v1h-2zM265 296h2v1h-2zM364 296h2v1h-2zM463 296h2v1h-2zM265 297h3v1h-3zM191 297h2v1h-2zM364 297h3v1h-3zM463 297h3v1h-3zM389 297h2v1h-2zM166 297h3v1h-3zM562 297h3v1h-3zM290 297h2v1h-2zM92 297h2v1h-2zM488 297h2v1h-2zM266 298h2v1h-2zM464 298h2v1h-2zM91 298h3v1h-3zM365 298h2v1h-2zM563 298h2v1h-2zM190 298h3v1h-3zM388 298h3v1h-3zM289 298h3v1h-3zM487 298h3v1h-3zM167 298h2v1h-2zM487 299h2v1h-2zM91 299h2v1h-2zM190 299h2v1h-2zM388 299h2v1h-2zM289 299h2v1h-2zM464 299h3v2h-3zM563 299h3v2h-3zM167 299h3v2h-3zM266 299h3v2h-3zM365 299h3v2h-3zM387 300h3v1h-3zM486 300h3v1h-3zM288 300h3v1h-3zM90 300h3v1h-3zM189 300h3v1h-3zM189 301h2v1h-2zM387 301h2v1h-2zM486 301h2v1h-2zM90 301h2v1h-2zM288 301h2v1h-2zM465 301h3v2h-3zM267 301h3v2h-3zM168 301h3v2h-3zM366 301h3v2h-3zM564 301h3v2h-3zM188 302h3v1h-3zM287 302h3v1h-3zM386 302h3v1h-3zM485 302h3v1h-3zM89 302h3v1h-3zM169 303h3v1h-3zM367 303h3v1h-3zM188 303h2v1h-2zM268 303h3v1h-3zM466 303h3v1h-3zM287 303h2v1h-2zM565 303h3v1h-3zM485 303h2v1h-2zM386 303h2v1h-2zM89 303h2v1h-2zM187 304h3v1h-3zM286 304h3v1h-3zM385 304h3v1h-3zM88 304h3v1h-3zM484 304h3v1h-3zM467 304h3v2h-3zM566 304h3v2h-3zM170 304h3v2h-3zM269 304h3v2h-3zM368 304h3v2h-3zM484 305h2v1h-2zM88 305h2v1h-2zM187 305h2v1h-2zM286 305h2v1h-2zM385 305h2v1h-2zM567 306h3v1h-3zM483 306h3v1h-3zM171 306h3v1h-3zM87 306h3v1h-3zM270 306h3v1h-3zM468 306h3v1h-3zM369 306h3v1h-3zM384 306h3v1h-3zM186 306h3v1h-3zM285 306h3v1h-3zM172 307h3v1h-3zM271 307h3v1h-3zM186 307h2v1h-2zM384 307h2v1h-2zM370 307h3v1h-3zM285 307h2v1h-2zM87 307h2v1h-2zM483 307h2v1h-2zM568 307h3v1h-3zM469 307h3v1h-3zM185 308h3v1h-3zM383 308h3v1h-3zM172 308h5v1h-5zM482 308h3v1h-3zM271 308h5v1h-5zM370 308h5v1h-5zM568 308h5v1h-5zM86 308h3v1h-3zM284 308h3v1h-3zM469 308h5v1h-5zM482 309h2v1h-2zM284 309h2v1h-2zM86 309h2v1h-2zM185 309h2v1h-2zM383 309h2v1h-2zM470 309h6v1h-6zM272 309h6v1h-6zM569 309h6v1h-6zM173 309h6v1h-6zM371 309h6v1h-6zM85 310h3v1h-3zM572 310h4v1h-4zM176 310h4v1h-4zM275 310h4v1h-4zM283 310h3v1h-3zM481 310h3v1h-3zM374 310h4v1h-4zM382 310h3v1h-3zM473 310h4v1h-4zM184 310h3v1h-3zM382 311h2v1h-2zM184 311h2v1h-2zM481 311h2v1h-2zM178 311h2v1h-2zM85 311h2v1h-2zM376 311h2v1h-2zM574 311h2v1h-2zM277 311h2v1h-2zM475 311h2v1h-2zM283 311h2v1h-2zM178 312h3v1h-3zM376 312h3v1h-3zM277 312h3v1h-3zM475 312h3v1h-3zM574 312h3v1h-3zM381 312h3v2h-3zM84 312h3v2h-3zM183 312h3v2h-3zM282 312h3v2h-3zM480 312h3v2h-3zM579 313h1v1h-1zM278 313h2v1h-2zM476 313h2v1h-2zM377 313h2v1h-2zM179 313h2v1h-2zM575 313h2v1h-2zM278 314h6v2h-6zM476 314h6v2h-6zM377 314h6v2h-6zM179 314h6v2h-6zM83 314h3v2h-3zM575 314h5v2h-5zM83 316h2v1h-2zM180 316h4v2h-4zM279 316h4v2h-4zM378 316h4v2h-4zM576 316h4v2h-4zM477 316h4v2h-4zM478 318h2v1h-2zM577 318h2v1h-2zM280 318h2v1h-2zM181 318h2v1h-2zM379 318h2v1h-2z"/>
<path fill="#008080" d="M112 257h10v1h-10zM508 257h10v1h-10zM211 257h10v1h-10zM409 257h10v1h-10zM310 257h10v1h-10zM208 258h14v1h-14zM109 258h14v1h-14zM307 258h14v1h-14zM505 258h14v1h-14zM406 258h14v1h-14zM219 259h5v1h-5zM417 259h5v1h-5zM503 259h6v1h-6zM516 259h5v1h-5zM120 259h5v1h-5zM107 259h6v1h-6zM305 259h6v1h-6zM206 259h6v1h-6zM404 259h6v1h-6zM318 259h5v1h-5zM320 260h3v1h-3zM419 260h3v1h-3zM204 260h6v1h-6zM303 260h6v1h-6zM402 260h6v1h-6zM501 260h6v1h-6zM221 260h3v1h-3zM105 260h6v1h-6zM518 260h3v1h-3zM122 260h3v1h-3zM499 261h6v1h-6zM123 261h3v1h-3zM519 261h3v1h-3zM222 261h3v1h-3zM321 261h3v1h-3zM103 261h6v1h-6zM202 261h6v1h-6zM301 261h6v1h-6zM400 261h6v1h-6zM420 261h3v1h-3zM124 262h3v1h-3zM322 262h3v1h-3zM201 262h5v1h-5zM300 262h5v1h-5zM498 262h5v1h-5zM223 262h3v1h-3zM102 262h5v1h-5zM421 262h3v1h-3zM520 262h3v1h-3zM399 262h5v1h-5zM298 263h5v1h-5zM520 263h4v1h-4zM100 263h5v1h-5zM322 263h4v1h-4zM496 263h5v1h-5zM124 263h4v1h-4zM223 263h4v1h-4zM199 263h5v1h-5zM421 263h4v1h-4zM397 263h5v1h-5zM494 264h5v1h-5zM323 264h3v1h-3zM521 264h3v1h-3zM125 264h3v1h-3zM98 264h5v1h-5zM296 264h5v1h-5zM224 264h3v1h-3zM197 264h5v1h-5zM395 264h5v1h-5zM422 264h3v1h-3zM522 265h3v1h-3zM193 265h8v1h-8zM391 265h8v1h-8zM225 265h3v1h-3zM490 265h8v1h-8zM126 265h3v1h-3zM324 265h3v1h-3zM94 265h8v1h-8zM423 265h3v1h-3zM292 265h8v1h-8zM127 266h22v1h-22zM473 266h23v1h-23zM83 266h17v1h-17zM226 266h22v1h-22zM325 266h22v1h-22zM176 266h23v1h-23zM275 266h23v1h-23zM424 266h22v1h-22zM374 266h23v1h-23zM523 266h22v1h-22zM572 266h8v1h-8zM425 267h23v1h-23zM524 267h23v1h-23zM472 267h20v1h-20zM83 267h13v1h-13zM128 267h23v1h-23zM373 267h20v1h-20zM175 267h20v1h-20zM326 267h23v1h-23zM227 267h23v1h-23zM274 267h20v1h-20zM571 267h9v1h-9zM274 268h3v1h-3zM246 268h5v1h-5zM444 268h5v1h-5zM147 268h5v1h-5zM345 268h5v1h-5zM472 268h3v1h-3zM373 268h3v1h-3zM175 268h3v1h-3zM571 268h3v1h-3zM543 268h5v1h-5zM446 269h5v1h-5zM545 269h5v1h-5zM149 269h5v1h-5zM248 269h5v1h-5zM174 269h3v1h-3zM273 269h3v1h-3zM372 269h3v1h-3zM471 269h3v1h-3zM347 269h5v1h-5zM570 269h3v1h-3zM447 270h6v1h-6zM470 270h4v1h-4zM249 270h6v1h-6zM348 270h6v1h-6zM272 270h4v1h-4zM569 270h4v1h-4zM173 270h4v1h-4zM371 270h4v1h-4zM546 270h6v1h-6zM150 270h6v1h-6zM370 271h4v1h-4zM568 271h4v1h-4zM251 271h6v1h-6zM548 271h6v1h-6zM469 271h4v1h-4zM152 271h6v1h-6zM350 271h6v1h-6zM172 271h4v1h-4zM449 271h6v1h-6zM271 271h4v1h-4zM352 272h6v1h-6zM269 272h5v1h-5zM368 272h5v1h-5zM451 272h6v1h-6zM550 272h6v1h-6zM467 272h5v1h-5zM154 272h6v1h-6zM566 272h5v1h-5zM253 272h6v1h-6zM170 272h5v1h-5zM466 273h4v1h-4zM565 273h4v1h-4zM355 273h6v1h-6zM169 273h4v1h-4zM553 273h6v1h-6zM367 273h4v1h-4zM157 273h6v1h-6zM256 273h6v1h-6zM268 273h4v1h-4zM454 273h6v1h-6zM258 274h13v1h-13zM357 274h13v1h-13zM456 274h13v1h-13zM555 274h13v1h-13zM159 274h13v1h-13zM161 275h10v1h-10zM557 275h10v1h-10zM359 275h10v1h-10zM260 275h10v1h-10zM458 275h10v1h-10z"/>
<path fill="#800080" d="M329 214h3v2h-3zM527 214h3v2h-3zM428 214h3v2h-3zM230 214h3v2h-3zM131 214h3v2h-3zM526 216h5v2h-5zM427 216h5v2h-5zM130 216h5v2h-5zM229 216h5v2h-5zM328 216h5v2h-5zM529 218h2v1h-2zM133 218h2v1h-2zM232 218h2v1h-2zM430 218h2v1h-2zM331 218h2v1h-2zM129 218h3v2h-3zM228 218h3v2h-3zM426 218h3v2h-3zM525 218h3v2h-3zM327 218h3v2h-3zM133 219h3v1h-3zM529 219h3v1h-3zM232 219h3v1h-3zM430 219h3v1h-3zM331 219h3v1h-3zM233 220h2v1h-2zM332 220h2v1h-2zM134 220h2v1h-2zM530 220h2v1h-2zM431 220h2v1h-2zM425 220h3v2h-3zM128 220h3v2h-3zM326 220h3v2h-3zM524 220h3v2h-3zM227 220h3v2h-3zM233 221h3v1h-3zM332 221h3v1h-3zM530 221h3v1h-3zM134 221h3v1h-3zM431 221h3v1h-3zM333 222h2v1h-2zM531 222h2v1h-2zM432 222h2v1h-2zM234 222h2v1h-2zM135 222h2v1h-2zM226 222h3v2h-3zM325 222h3v2h-3zM424 222h3v2h-3zM523 222h3v2h-3zM127 222h3v2h-3zM531 223h3v1h-3zM432 223h3v1h-3zM234 223h3v1h-3zM135 223h3v1h-3zM333 223h3v1h-3zM127 224h2v1h-2zM523 224h2v1h-2zM532 224h2v1h-2zM433 224h2v1h-2zM226 224h2v1h-2zM136 224h2v1h-2zM325 224h2v1h-2zM334 224h2v1h-2zM235 224h2v1h-2zM424 224h2v1h-2zM522 225h3v1h-3zM225 225h3v1h-3zM136 225h3v1h-3zM334 225h3v1h-3zM126 225h3v1h-3zM324 225h3v1h-3zM235 225h3v1h-3zM433 225h3v1h-3zM532 225h3v1h-3zM423 225h3v1h-3zM137 226h2v1h-2zM423 226h2v1h-2zM236 226h2v1h-2zM335 226h2v1h-2zM434 226h2v1h-2zM522 226h2v1h-2zM126 226h2v1h-2zM225 226h2v1h-2zM324 226h2v1h-2zM533 226h2v1h-2zM323 227h3v1h-3zM521 227h3v1h-3zM434 227h3v1h-3zM125 227h3v1h-3zM335 227h3v1h-3zM533 227h3v1h-3zM224 227h3v1h-3zM137 227h3v1h-3zM236 227h3v1h-3zM422 227h3v1h-3zM336 228h2v1h-2zM422 228h2v1h-2zM435 228h2v1h-2zM237 228h2v1h-2zM323 228h2v1h-2zM125 228h2v1h-2zM521 228h2v1h-2zM534 228h2v1h-2zM224 228h2v1h-2zM138 228h2v1h-2zM124 229h3v1h-3zM322 229h3v1h-3zM435 229h3v1h-3zM223 229h3v1h-3zM534 229h3v1h-3zM421 229h3v1h-3zM138 229h3v1h-3zM520 229h3v1h-3zM237 229h3v1h-3zM336 229h3v1h-3zM337 230h2v1h-2zM535 230h2v1h-2zM124 230h2v1h-2zM322 230h2v1h-2zM436 230h2v1h-2zM223 230h2v1h-2zM139 230h2v1h-2zM421 230h2v1h-2zM238 230h2v1h-2zM520 230h2v1h-2zM123 231h3v1h-3zM519 231h3v1h-3zM222 231h3v1h-3zM321 231h3v1h-3zM420 231h3v1h-3zM139 231h3v2h-3zM238 231h3v2h-3zM337 231h3v2h-3zM535 231h3v2h-3zM436 231h3v2h-3zM321 232h2v1h-2zM420 232h2v1h-2zM519 232h2v1h-2zM123 232h2v1h-2zM222 232h2v1h-2zM320 233h3v1h-3zM419 233h3v1h-3zM122 233h3v1h-3zM221 233h3v1h-3zM518 233h3v1h-3zM338 233h3v2h-3zM239 233h3v2h-3zM437 233h3v2h-3zM140 233h3v2h-3zM536 233h3v2h-3zM122 234h2v1h-2zM320 234h2v1h-2zM518 234h2v1h-2zM419 234h2v1h-2zM221 234h2v1h-2zM319 235h3v1h-3zM418 235h3v1h-3zM121 235h3v1h-3zM517 235h3v1h-3zM220 235h3v1h-3zM240 235h3v2h-3zM339 235h3v2h-3zM537 235h3v2h-3zM141 235h3v2h-3zM438 235h3v2h-3zM121 236h2v1h-2zM220 236h2v1h-2zM319 236h2v1h-2zM418 236h2v1h-2zM517 236h2v1h-2zM142 237h3v2h-3zM538 237h3v2h-3zM516 237h3v2h-3zM241 237h3v2h-3zM219 237h3v2h-3zM318 237h3v2h-3zM340 237h3v2h-3zM417 237h3v2h-3zM439 237h3v2h-3zM120 237h3v2h-3zM242 239h3v2h-3zM143 239h3v2h-3zM341 239h3v2h-3zM515 239h3v2h-3zM539 239h3v2h-3zM119 239h3v2h-3zM317 239h3v2h-3zM440 239h3v2h-3zM218 239h3v2h-3zM416 239h3v2h-3zM342 241h3v2h-3zM316 241h3v2h-3zM441 241h3v2h-3zM514 241h3v2h-3zM144 241h3v2h-3zM415 241h3v2h-3zM540 241h3v2h-3zM217 241h3v2h-3zM243 241h3v2h-3zM118 241h3v2h-3zM117 243h3v2h-3zM541 243h3v2h-3zM216 243h3v2h-3zM145 243h3v2h-3zM414 243h3v2h-3zM343 243h3v2h-3zM315 243h3v2h-3zM244 243h3v2h-3zM513 243h3v2h-3zM442 243h3v2h-3zM146 245h2v1h-2zM542 245h2v1h-2zM245 245h2v1h-2zM443 245h2v1h-2zM344 245h2v1h-2zM413 245h3v2h-3zM512 245h3v2h-3zM116 245h3v2h-3zM215 245h3v2h-3zM314 245h3v2h-3zM245 246h3v1h-3zM443 246h3v1h-3zM344 246h3v1h-3zM542 246h3v1h-3zM146 246h3v1h-3zM246 247h2v1h-2zM345 247h2v1h-2zM147 247h2v1h-2zM543 247h2v1h-2zM444 247h2v1h-2zM313 247h3v2h-3zM412 247h3v2h-3zM214 247h3v2h-3zM511 247h3v2h-3zM115 247h3v2h-3zM543 248h3v1h-3zM444 248h3v1h-3zM246 248h3v1h-3zM147 248h3v1h-3zM345 248h3v1h-3zM346 249h2v1h-2zM313 249h2v1h-2zM445 249h2v1h-2zM511 249h2v1h-2zM214 249h2v1h-2zM412 249h2v1h-2zM544 249h2v1h-2zM115 249h2v1h-2zM247 249h2v1h-2zM148 249h2v1h-2zM544 250h3v1h-3zM114 250h3v1h-3zM312 250h3v1h-3zM247 250h3v1h-3zM510 250h3v1h-3zM148 250h3v1h-3zM346 250h3v1h-3zM445 250h3v1h-3zM411 250h3v1h-3zM213 250h3v1h-3zM411 251h2v1h-2zM545 251h2v1h-2zM213 251h2v1h-2zM149 251h2v1h-2zM114 251h2v1h-2zM248 251h2v1h-2zM312 251h2v1h-2zM510 251h2v1h-2zM347 251h2v1h-2zM446 251h2v1h-2zM113 252h3v1h-3zM410 252h3v1h-3zM248 252h3v1h-3zM347 252h3v1h-3zM446 252h3v1h-3zM212 252h3v1h-3zM311 252h3v1h-3zM509 252h3v1h-3zM149 252h3v1h-3zM545 252h3v1h-3zM150 253h2v1h-2zM546 253h2v1h-2zM311 253h2v1h-2zM113 253h2v1h-2zM249 253h2v1h-2zM509 253h2v1h-2zM447 253h2v1h-2zM410 253h2v1h-2zM348 253h2v1h-2zM212 253h2v1h-2zM249 254h3v1h-3zM310 254h3v1h-3zM447 254h3v1h-3zM348 254h3v1h-3zM508 254h3v1h-3zM112 254h3v1h-3zM546 254h3v1h-3zM150 254h3v1h-3zM211 254h3v1h-3zM409 254h3v1h-3zM112 255h2v1h-2zM211 255h2v1h-2zM409 255h2v1h-2zM310 255h2v1h-2zM349 255h2v1h-2zM448 255h2v1h-2zM547 255h2v1h-2zM250 255h2v1h-2zM508 255h2v1h-2zM151 255h2v1h-2zM210 256h3v1h-3zM547 256h3v1h-3zM448 256h3v1h-3zM309 256h3v1h-3zM151 256h3v1h-3zM250 256h3v1h-3zM349 256h3v1h-3zM408 256h3v1h-3zM507 256h3v1h-3zM111 256h3v1h-3zM507 257h2v1h-2zM111 257h2v1h-2zM210 257h2v1h-2zM152 257h2v1h-2zM251 257h2v1h-2zM350 257h2v1h-2zM548 257h2v1h-2zM309 257h2v1h-2zM449 257h2v1h-2zM408 257h2v1h-2zM209 258h3v1h-3zM110 258h3v1h-3zM308 258h3v1h-3zM407 258h3v1h-3zM506 258h3v1h-3zM251 258h3v2h-3zM548 258h3v2h-3zM152 258h3v2h-3zM350 258h3v2h-3zM449 258h3v2h-3zM407 259h2v1h-2zM506 259h2v1h-2zM209 259h2v1h-2zM110 259h2v1h-2zM308 259h2v1h-2zM505 260h3v1h-3zM109 260h3v1h-3zM208 260h3v1h-3zM406 260h3v1h-3zM307 260h3v1h-3zM351 260h3v2h-3zM252 260h3v2h-3zM450 260h3v2h-3zM549 260h3v2h-3zM153 260h3v2h-3zM307 261h2v1h-2zM505 261h2v1h-2zM109 261h2v1h-2zM406 261h2v1h-2zM208 261h2v1h-2zM451 262h3v2h-3zM207 262h3v2h-3zM306 262h3v2h-3zM154 262h3v2h-3zM405 262h3v2h-3zM504 262h3v2h-3zM550 262h3v2h-3zM108 262h3v2h-3zM253 262h3v2h-3zM352 262h3v2h-3zM107 264h3v2h-3zM503 264h3v2h-3zM155 264h3v2h-3zM305 264h3v2h-3zM206 264h3v2h-3zM254 264h3v2h-3zM404 264h3v2h-3zM551 264h3v2h-3zM353 264h3v2h-3zM452 264h3v2h-3zM403 266h3v2h-3zM205 266h3v2h-3zM502 266h3v2h-3zM354 266h3v2h-3zM106 266h3v2h-3zM453 266h3v2h-3zM255 266h3v2h-3zM304 266h3v2h-3zM156 266h3v2h-3zM552 266h3v2h-3zM256 268h3v2h-3zM454 268h3v2h-3zM303 268h3v2h-3zM402 268h3v2h-3zM553 268h3v2h-3zM105 268h3v2h-3zM501 268h3v2h-3zM157 268h3v2h-3zM355 268h3v2h-3zM204 268h3v2h-3zM104 270h3v2h-3zM203 270h3v2h-3zM158 270h3v2h-3zM401 270h3v2h-3zM257 270h3v2h-3zM455 270h3v2h-3zM302 270h3v2h-3zM500 270h3v2h-3zM356 270h3v2h-3zM554 270h3v2h-3zM555 272h2v1h-2zM159 272h2v1h-2zM258 272h2v1h-2zM456 272h2v1h-2zM357 272h2v1h-2zM103 272h3v2h-3zM301 272h3v2h-3zM202 272h3v2h-3zM400 272h3v2h-3zM499 272h3v2h-3zM258 273h3v1h-3zM456 273h3v1h-3zM357 273h3v1h-3zM159 273h3v1h-3zM555 273h3v1h-3zM202 274h2v1h-2zM259 274h2v1h-2zM400 274h2v1h-2zM358 274h2v1h-2zM499 274h2v1h-2zM556 274h2v1h-2zM457 274h2v1h-2zM103 274h2v1h-2zM160 274h2v1h-2zM301 274h2v1h-2zM556 275h3v1h-3zM457 275h3v1h-3zM399 275h3v1h-3zM201 275h3v1h-3zM160 275h3v1h-3zM102 275h3v1h-3zM498 275h3v1h-3zM300 275h3v1h-3zM259 275h3v1h-3zM358 275h3v1h-3zM201 276h2v1h-2zM260 276h2v1h-2zM498 276h2v1h-2zM102 276h2v1h-2zM300 276h2v1h-2zM458 276h2v1h-2zM557 276h2v1h-2zM161 276h2v1h-2zM359 276h2v1h-2zM399 276h2v1h-2zM101 277h3v1h-3zM458 277h3v1h-3zM161 277h3v1h-3zM557 277h3v1h-3zM200 277h3v1h-3zM299 277h3v1h-3zM359 277h3v1h-3zM497 277h3v1h-3zM260 277h3v1h-3zM398 277h3v1h-3zM398 278h2v1h-2zM101 278h2v1h-2zM162 278h2v1h-2zM497 278h2v1h-2zM200 278h2v1h-2zM261 278h2v1h-2zM459 278h2v1h-2zM299 278h2v1h-2zM360 278h2v1h-2zM558 278h2v1h-2zM162 279h3v1h-3zM100 279h3v1h-3zM496 279h3v1h-3zM261 279h3v1h-3zM360 279h3v1h-3zM199 279h3v1h-3zM459 279h3v1h-3zM397 279h3v1h-3zM558 279h3v1h-3zM298 279h3v1h-3zM262 280h2v1h-2zM496 280h2v1h-2zM361 280h2v1h-2zM460 280h2v1h-2zM559 280h2v1h-2zM100 280h2v1h-2zM397 280h2v1h-2zM163 280h2v1h-2zM199 280h2v1h-2zM298 280h2v1h-2zM396 281h3v1h-3zM460 281h3v1h-3zM361 281h3v1h-3zM495 281h3v1h-3zM559 281h3v1h-3zM99 281h3v1h-3zM262 281h3v1h-3zM163 281h3v1h-3zM198 281h3v1h-3zM297 281h3v1h-3zM198 282h2v1h-2zM461 282h2v1h-2zM297 282h2v1h-2zM560 282h2v1h-2zM396 282h2v1h-2zM263 282h2v1h-2zM99 282h2v1h-2zM495 282h2v1h-2zM164 282h2v1h-2zM362 282h2v1h-2zM461 283h3v1h-3zM560 283h3v1h-3zM98 283h3v1h-3zM296 283h3v1h-3zM197 283h3v1h-3zM263 283h3v1h-3zM395 283h3v1h-3zM164 283h3v1h-3zM494 283h3v1h-3zM362 283h3v1h-3zM264 284h2v1h-2zM462 284h2v1h-2zM561 284h2v1h-2zM165 284h2v1h-2zM98 284h2v1h-2zM296 284h2v1h-2zM197 284h2v1h-2zM395 284h2v1h-2zM363 284h2v1h-2zM494 284h2v1h-2zM394 285h3v1h-3zM97 285h3v1h-3zM196 285h3v1h-3zM295 285h3v1h-3zM493 285h3v1h-3zM165 285h3v2h-3zM363 285h3v2h-3zM561 285h3v2h-3zM264 285h3v2h-3zM462 285h3v2h-3zM493 286h2v1h-2zM394 286h2v1h-2zM196 286h2v1h-2zM97 286h2v1h-2zM295 286h2v1h-2zM265 287h3v2h-3zM393 287h3v2h-3zM294 287h3v2h-3zM364 287h3v2h-3zM492 287h3v2h-3zM463 287h3v2h-3zM96 287h3v2h-3zM166 287h3v2h-3zM562 287h3v2h-3zM195 287h3v2h-3zM194 289h3v2h-3zM293 289h3v2h-3zM392 289h3v2h-3zM167 289h3v2h-3zM464 289h3v2h-3zM95 289h3v2h-3zM491 289h3v2h-3zM266 289h3v2h-3zM365 289h3v2h-3zM563 289h3v2h-3zM465 291h3v2h-3zM267 291h3v2h-3zM94 291h3v2h-3zM168 291h3v2h-3zM193 291h3v2h-3zM292 291h3v2h-3zM391 291h3v2h-3zM366 291h3v2h-3zM564 291h3v2h-3zM490 291h3v2h-3zM390 293h3v2h-3zM169 293h3v2h-3zM367 293h3v2h-3zM489 293h3v2h-3zM268 293h3v2h-3zM466 293h3v2h-3zM565 293h3v2h-3zM192 293h3v2h-3zM93 293h3v2h-3zM291 293h3v2h-3zM467 295h3v2h-3zM389 295h3v2h-3zM566 295h3v2h-3zM290 295h3v2h-3zM488 295h3v2h-3zM170 295h3v2h-3zM269 295h3v2h-3zM92 295h3v2h-3zM368 295h3v2h-3zM191 295h3v2h-3zM191 297h2v1h-2zM389 297h2v1h-2zM290 297h2v1h-2zM92 297h2v1h-2zM488 297h2v1h-2zM567 297h3v2h-3zM171 297h3v2h-3zM270 297h3v2h-3zM468 297h3v2h-3zM369 297h3v2h-3zM91 298h3v1h-3zM190 298h3v1h-3zM388 298h3v1h-3zM289 298h3v1h-3zM487 298h3v1h-3zM469 299h2v1h-2zM487 299h2v1h-2zM172 299h2v1h-2zM91 299h2v1h-2zM271 299h2v1h-2zM190 299h2v1h-2zM370 299h2v1h-2zM568 299h2v1h-2zM388 299h2v1h-2zM289 299h2v1h-2zM172 300h3v1h-3zM271 300h3v1h-3zM387 300h3v1h-3zM370 300h3v1h-3zM486 300h3v1h-3zM288 300h3v1h-3zM568 300h3v1h-3zM90 300h3v1h-3zM189 300h3v1h-3zM469 300h3v1h-3zM189 301h2v1h-2zM173 301h2v1h-2zM387 301h2v1h-2zM569 301h2v1h-2zM486 301h2v1h-2zM470 301h2v1h-2zM90 301h2v1h-2zM288 301h2v1h-2zM272 301h2v1h-2zM371 301h2v1h-2zM188 302h3v1h-3zM287 302h3v1h-3zM386 302h3v1h-3zM485 302h3v1h-3zM470 302h3v1h-3zM272 302h3v1h-3zM569 302h3v1h-3zM173 302h3v1h-3zM89 302h3v1h-3zM371 302h3v1h-3zM273 303h2v1h-2zM471 303h2v1h-2zM188 303h2v1h-2zM570 303h2v1h-2zM287 303h2v1h-2zM485 303h2v1h-2zM386 303h2v1h-2zM174 303h2v1h-2zM372 303h2v1h-2zM89 303h2v1h-2zM187 304h3v1h-3zM570 304h3v1h-3zM286 304h3v1h-3zM174 304h3v1h-3zM273 304h3v1h-3zM372 304h3v1h-3zM385 304h3v1h-3zM471 304h3v1h-3zM88 304h3v1h-3zM484 304h3v1h-3zM571 305h2v1h-2zM484 305h2v1h-2zM175 305h2v1h-2zM88 305h2v1h-2zM274 305h2v1h-2zM187 305h2v1h-2zM472 305h2v1h-2zM286 305h2v1h-2zM385 305h2v1h-2zM373 305h2v1h-2zM274 306h3v1h-3zM483 306h3v1h-3zM571 306h3v1h-3zM87 306h3v1h-3zM472 306h3v1h-3zM373 306h3v1h-3zM175 306h3v1h-3zM384 306h3v1h-3zM186 306h3v1h-3zM285 306h3v1h-3zM275 307h2v1h-2zM186 307h2v1h-2zM384 307h2v1h-2zM374 307h2v1h-2zM285 307h2v1h-2zM87 307h2v1h-2zM483 307h2v1h-2zM473 307h2v1h-2zM176 307h2v1h-2zM572 307h2v1h-2zM185 308h3v1h-3zM374 308h3v1h-3zM383 308h3v1h-3zM473 308h3v1h-3zM572 308h3v1h-3zM176 308h3v1h-3zM482 308h3v1h-3zM86 308h3v1h-3zM275 308h3v1h-3zM284 308h3v1h-3zM482 309h2v1h-2zM284 309h2v1h-2zM375 309h2v1h-2zM86 309h2v1h-2zM185 309h2v1h-2zM474 309h2v1h-2zM383 309h2v1h-2zM573 309h2v1h-2zM177 309h2v1h-2zM276 309h2v1h-2zM474 310h3v1h-3zM85 310h3v1h-3zM177 310h3v1h-3zM573 310h3v1h-3zM283 310h3v1h-3zM276 310h3v1h-3zM481 310h3v1h-3zM382 310h3v1h-3zM375 310h3v1h-3zM184 310h3v1h-3zM382 311h2v1h-2zM184 311h2v1h-2zM481 311h2v1h-2zM178 311h2v1h-2zM85 311h2v1h-2zM376 311h2v1h-2zM574 311h2v1h-2zM277 311h2v1h-2zM475 311h2v1h-2zM283 311h2v1h-2zM178 312h3v1h-3zM376 312h3v1h-3zM277 312h3v1h-3zM475 312h3v1h-3zM574 312h3v1h-3zM381 312h3v2h-3zM84 312h3v2h-3zM183 312h3v2h-3zM282 312h3v2h-3zM480 312h3v2h-3zM579 313h1v1h-1zM278 313h2v1h-2zM476 313h2v1h-2zM377 313h2v1h-2zM179 313h2v1h-2zM575 313h2v1h-2zM278 314h6v2h-6zM476 314h6v2h-6zM377 314h6v2h-6zM179 314h6v2h-6zM83 314h3v2h-3zM575 314h5v2h-5zM83 316h2v1h-2zM180 316h4v2h-4zM279 316h4v2h-4zM378 316h4v2h-4zM576 316h4v2h-4zM477 316h4v2h-4zM478 318h2v1h-2zM577 318h2v1h-2zM280 318h2v1h-2zM181 318h2v1h-2zM379 318h2v1h-2z"/>
<path fill="#0000ff" d="M83 355h50v2h-50zM280 355h51v2h-51zM181 355h51v2h-51zM379 355h51v2h-51zM478 355h51v2h-51zM428 357h2v101h-2zM428 458h3v2h-3zM181 357h2v106h-2zM180 463h3v2h-3zM527 357h2v113h-2zM527 470h3v2h-3zM577 355h2v121h-2zM576 476h3v2h-3zM131 357h2v124h-2zM131 481h3v2h-3zM478 357h2v127h-2zM477 484h3v2h-3zM230 357h2v132h-2zM230 489h3v2h-3zM379 357h2v135h-2zM280 357h2v137h-2zM378 492h3v2h-3zM329 357h2v138h-2zM279 494h3v2h-3zM329 495h3v2h-3zM429 460h2v38h-2zM180 465h2v33h-2zM528 472h2v26h-2zM576 478h2v20h-2zM132 483h2v15h-2zM477 486h2v12h-2zM231 491h2v7h-2zM378 494h2v4h-2zM279 496h2v2h-2zM330 497h2v1h-2zM231 498h50v2h-50zM330 498h50v2h-50zM429 498h50v2h-50zM528 498h50v2h-50zM132 498h50v2h-50z"/>
<text transform="translate(79.3,56.0) scale(0.925,1.07)" text-anchor="end">400</text>
<text transform="translate(79.3,84.0) scale(0.925,1.07)" text-anchor="end">200</text>
<text transform="translate(79.3,112.0) scale(0.925,1.07)" text-anchor="end">0</text>
<text transform="translate(79.3,139.0) scale(0.925,1.07)" text-anchor="end">-200</text>
<text transform="translate(79.3,167.0) scale(0.925,1.07)" text-anchor="end">-400</text>
<text transform="translate(29,105.5) rotate(-90) scale(1,1.07)" text-anchor="middle" style="letter-spacing:0px">mA</text>
<text transform="translate(79.3,211.0) scale(0.925,1.07)" text-anchor="end">600</text>
<text transform="translate(79.3,231.0) scale(0.925,1.07)" text-anchor="end">400</text>
<text transform="translate(79.3,252.0) scale(0.925,1.07)" text-anchor="end">200</text>
<text transform="translate(79.3,272.0) scale(0.925,1.07)" text-anchor="end">-0</text>
<text transform="translate(79.3,292.0) scale(0.925,1.07)" text-anchor="end">-200</text>
<text transform="translate(79.3,313.0) scale(0.925,1.07)" text-anchor="end">-400</text>
<text transform="translate(79.3,333.0) scale(0.925,1.07)" text-anchor="end">-600</text>
<text transform="translate(29,266.5) rotate(-90) scale(1,1.07)" text-anchor="middle" style="letter-spacing:0px">mA</text>
<text transform="translate(79.3,373.0) scale(0.925,1.07)" text-anchor="end">350</text>
<text transform="translate(79.3,392.0) scale(0.925,1.07)" text-anchor="end">300</text>
<text transform="translate(79.3,411.0) scale(0.925,1.07)" text-anchor="end">250</text>
<text transform="translate(79.3,429.0) scale(0.925,1.07)" text-anchor="end">200</text>
<text transform="translate(79.3,448.0) scale(0.925,1.07)" text-anchor="end">150</text>
<text transform="translate(79.3,467.0) scale(0.925,1.07)" text-anchor="end">100</text>
<text transform="translate(79.3,485.0) scale(0.925,1.07)" text-anchor="end">50</text>
<text transform="translate(79.3,504.0) scale(0.925,1.07)" text-anchor="end">-0</text>
<text transform="translate(29,427.5) rotate(-90) scale(1,1.07)" text-anchor="middle" style="letter-spacing:0.3px">DVM VSW / V</text>
<text transform="translate(83.8,512) scale(0.925,1.07)" text-anchor="middle">0</text>
<text transform="translate(173.3,512) scale(0.925,1.07)" text-anchor="middle">10</text>
<text transform="translate(263.3,512) scale(0.925,1.07)" text-anchor="middle">20</text>
<text transform="translate(352.3,512) scale(0.925,1.07)" text-anchor="middle">30</text>
<text transform="translate(442.3,512) scale(0.925,1.07)" text-anchor="middle">40</text>
<text transform="translate(531.3,512) scale(0.925,1.07)" text-anchor="middle">50</text>
<text transform="translate(84,543) scale(1,1.07)" style="letter-spacing:-0.05px">time/uSecs</text>
<text transform="translate(578.6,543) scale(1,1.07)" text-anchor="end" style="letter-spacing:-0.2px">10uSecs/div</text>
</svg></body></html>
